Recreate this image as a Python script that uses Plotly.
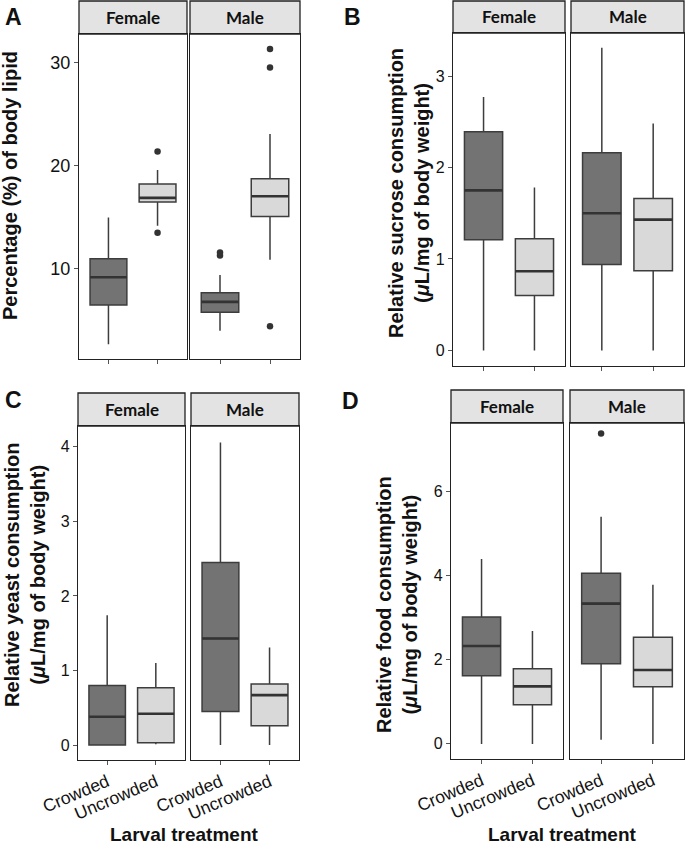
import plotly.graph_objects as go

# ---------------- data ----------------
groups = ["Crowded", "Uncrowded"]
sexes = ["Female", "Male"]

# each: [female_crowded, female_uncrowded, male_crowded, male_uncrowded]
lipid_low = [2.7, 14.2, 4.0, 10.9]
lipid_q1 = [6.5, 16.5, 5.8, 15.1]
lipid_med = [9.2, 16.9, 6.8, 17.05]
lipid_q3 = [11.0, 18.25, 7.7, 18.75]
lipid_high = [15.0, 19.6, 9.4, 23.1]
lipid_outliers = [[], [21.4, 13.5], [11.3, 11.6], [31.35, 29.55, 4.45]]

sucrose_low = [0, 0, 0, 0]
sucrose_q1 = [1.21, 0.60, 0.94, 0.87]
sucrose_med = [1.75, 0.865, 1.50, 1.43]
sucrose_q3 = [2.39, 1.22, 2.16, 1.66]
sucrose_high = [2.77, 1.78, 3.31, 2.48]
sucrose_outliers = [[], [], [], []]

yeast_low = [0, 0.01, 0, 0]
yeast_q1 = [0, 0.03, 0.45, 0.26]
yeast_med = [0.38, 0.42, 1.43, 0.67]
yeast_q3 = [0.80, 0.77, 2.45, 0.82]
yeast_high = [1.74, 1.10, 4.06, 1.31]
yeast_outliers = [[], [], [], []]

food_low = [0, 0, 0.10, 0]
food_q1 = [1.62, 0.93, 1.91, 1.36]
food_med = [2.33, 1.37, 3.34, 1.76]
food_q3 = [3.02, 1.79, 4.06, 2.54]
food_high = [4.40, 2.69, 5.41, 3.79]
food_outliers = [[], [], [7.39], []]

lipid_ticks = [10, 20, 30]
sucrose_ticks = [0, 1, 2, 3]
yeast_ticks = [0, 1, 2, 3, 4]
food_ticks = [0, 2, 4, 6]

# ---------------- layout geometry (pixels) ----------------
W, H = 685, 846
panels = [
    dict(letter="A", stats=(lipid_low, lipid_q1, lipid_med, lipid_q3, lipid_high), out=lipid_outliers,
         ticks=lipid_ticks, yr=[1.26, 32.8], tickfont=18,
         fx=[(79, 187), (190, 300)], py=(34, 359), sy=(1, 34), labels=False,
         title="<b>Percentage (%) of body lipid</b>", tpos=(10, 186),
         lpos=(13, 17)),
    dict(letter="B", stats=(sucrose_low, sucrose_q1, sucrose_med, sucrose_q3, sucrose_high), out=sucrose_outliers,
         ticks=sucrose_ticks, yr=[-0.17, 3.47], tickfont=16,
         fx=[(453, 565), (571, 684)], py=(33, 366), sy=(1, 33), labels=False,
         title="<b>Relative sucrose consumption<br>(<i>μ</i>L/mg of body weight)</b>", tpos=(409, 193),
         lpos=(353, 17)),
    dict(letter="C", stats=(yeast_low, yeast_q1, yeast_med, yeast_q3, yeast_high), out=yeast_outliers,
         ticks=yeast_ticks, yr=[-0.2, 4.28], tickfont=16,
         fx=[(78, 185), (191, 299)], py=(426, 760), sy=(393, 426), labels=True,
         title="<b>Relative yeast consumption<br>(<i>μ</i>L/mg of body weight)</b>", tpos=(25, 575),
         lpos=(13, 400)),
    dict(letter="D", stats=(food_low, food_q1, food_med, food_q3, food_high), out=food_outliers,
         ticks=food_ticks, yr=[-0.36, 7.64], tickfont=16,
         fx=[(451, 563), (570, 684)], py=(423, 759), sy=(390, 423), labels=True,
         title="<b>Relative food consumption<br>(<i>μ</i>L/mg of body weight)</b>", tpos=(397, 605),
         lpos=(350, 401)),
]

fills = ["#737373", "#d9d9d9"]
edge = "#3d3d3d"
BW = 0.75

fig = go.Figure()
layout = {}
shapes = []
annotations = []

def px_x(v):
    return v / W

def px_y(v):
    return 1 - v / H

ax = 0
for p in panels:
    low, q1, med, q3, high = p["stats"]
    for si, sex in enumerate(sexes):
        ax += 1
        xn = "x" if ax == 1 else f"x{ax}"
        yn = "y" if ax == 1 else f"y{ax}"
        xk = "xaxis" if ax == 1 else f"xaxis{ax}"
        yk = "yaxis" if ax == 1 else f"yaxis{ax}"
        x0, x1 = p["fx"][si]
        for gi, g in enumerate(groups):
            k = si * 2 + gi
            fig.add_trace(go.Box(
                x=[gi], q1=[q1[k]], median=[med[k]], q3=[q3[k]],
                lowerfence=[low[k]], upperfence=[high[k]],
                width=BW, whiskerwidth=0, fillcolor=fills[gi],
                line=dict(color=edge, width=1.5), boxpoints=False,
                hoverinfo="skip", showlegend=False, xaxis=xn, yaxis=yn))
            fig.add_trace(go.Scatter(
                x=[gi - BW / 2, gi + BW / 2], y=[med[k], med[k]], mode="lines",
                line=dict(color="#333333", width=2.6), showlegend=False,
                hoverinfo="skip", xaxis=xn, yaxis=yn))
            if p["out"][k]:
                fig.add_trace(go.Scatter(
                    x=[gi] * len(p["out"][k]), y=p["out"][k], mode="markers",
                    marker=dict(color="#333333", size=6.5), showlegend=False,
                    hoverinfo="skip", xaxis=xn, yaxis=yn))
        layout[xk] = dict(
            domain=[px_x(x0), px_x(x1)], anchor=yn, range=[-0.6, 1.6],
            tickvals=[0, 1], ticktext=groups, showticklabels=p["labels"],
            tickangle=-23, ticks="outside", ticklen=4, tickcolor="#555555",
            tickfont=dict(family="Liberation Sans", size=17.5, color="#111111"),
            showline=True, linecolor="#222222", linewidth=1.3, mirror=True,
            showgrid=False, zeroline=False, fixedrange=True, automargin=False)
        layout[yk] = dict(
            domain=[px_y(p["py"][1]), px_y(p["py"][0])], anchor=xn, range=p["yr"],
            tickvals=p["ticks"], showticklabels=(si == 0),
            ticks="outside" if si == 0 else "", ticklen=4, tickcolor="#555555",
            tickfont=dict(family="Liberation Sans", size=p["tickfont"], color="#111111"),
            showline=True, linecolor="#222222", linewidth=1.3, mirror=True,
            showgrid=False, zeroline=False, fixedrange=True, automargin=False)
        # strip
        shapes.append(dict(type="rect", xref="paper", yref="paper",
                           x0=px_x(x0), x1=px_x(x1), y0=px_y(p["sy"][1]), y1=px_y(p["sy"][0]),
                           fillcolor="#e3e3e3", line=dict(color="#222222", width=1.3), layer="below"))
        annotations.append(dict(xref="paper", yref="paper", x=px_x((x0 + x1) / 2),
                                y=px_y((p["sy"][0] + p["sy"][1]) / 2), text=f"<b>{sex}</b>",
                                showarrow=False, xanchor="center", yanchor="middle",
                                font=dict(family="Lato", size=17, color="#111111")))
    # y title
    annotations.append(dict(xref="paper", yref="paper", x=px_x(p["tpos"][0]), y=px_y(p["tpos"][1]),
                            text=p["title"], textangle=-90, showarrow=False,
                            xanchor="center", yanchor="middle",
                            font=dict(family="Liberation Sans", size=20, color="#111111")))
    # panel letter
    annotations.append(dict(xref="paper", yref="paper", x=px_x(p["lpos"][0]), y=px_y(p["lpos"][1]),
                            text=f"<b>{p['letter']}</b>", showarrow=False,
                            xanchor="center", yanchor="middle",
                            font=dict(family="Liberation Sans", size=23, color="#111111")))

# x titles
for cx in (184, 562):
    annotations.append(dict(xref="paper", yref="paper", x=px_x(cx), y=px_y(834),
                            text="<b>Larval treatment</b>", showarrow=False,
                            xanchor="center", yanchor="middle",
                            font=dict(family="Liberation Sans", size=19, color="#111111")))

fig.update_layout(**layout)
fig.update_layout(width=W, height=H, margin=dict(l=0, r=0, t=0, b=0, autoexpand=False),
                  paper_bgcolor="white", plot_bgcolor="white",
                  shapes=shapes, annotations=annotations, showlegend=False)
fig.write_html("out.html", config={"displayModeBar": False},
               post_script="document.body.style.margin='0';document.body.style.overflow='hidden';")
